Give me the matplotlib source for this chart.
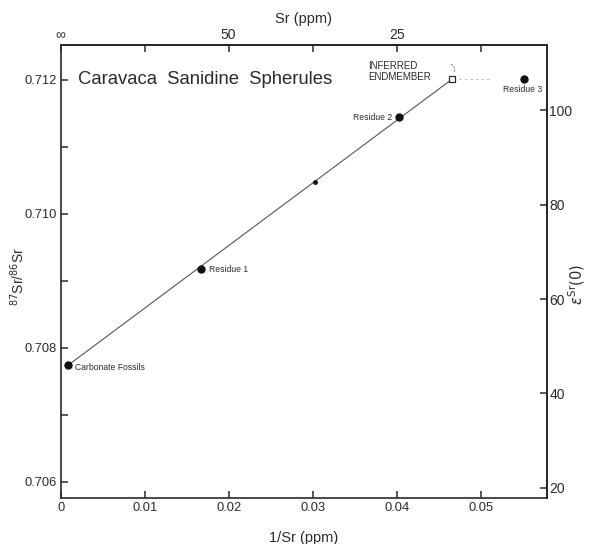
import matplotlib
matplotlib.use("Agg")
import matplotlib.pyplot as plt

# 1/Sr (ppm^-1) and 87Sr/86Sr for the measured fractions
sample_names = ["Carbonate Fossils", "Residue 1", "", "Residue 2", "Residue 3"]
inv_sr = [0.0009, 0.0167, 0.0303, 0.0403, 0.0552]
sr_ratio = [0.70774, 0.70917, 0.71048, 0.71144, 0.71201]

# inferred sanidine endmember (open square)
endmember_inv_sr = 0.0466
endmember_ratio = 0.71201

# axis ticks
x_ticks = [0.0, 0.01, 0.02, 0.03, 0.04, 0.05]
x_tick_labels = ["0", "0.01", "0.02", "0.03", "0.04", "0.05"]
top_ticks = [0.0, 0.01, 0.02, 0.03, 0.04, 0.05]
top_tick_labels = ["\u221e", "", "50", "", "25", ""]
y_ticks = [0.706, 0.707, 0.708, 0.709, 0.710, 0.711, 0.712]
y_tick_labels = ["0.706", "", "0.708", "", "0.710", "", "0.712"]
eps_ticks = [20, 40, 60, 80, 100]

UR_REF = 0.7045  # bulk-earth reference for epsilon Sr

plt.rcParams["font.family"] = ["Liberation Sans", "DejaVu Sans"]
ink = "#2a2a2a"

fig = plt.figure(figsize=(5.92, 5.44), dpi=100)
ax = fig.add_axes([0.1025, 0.0851, 0.821, 0.8322])

ax.set_xlim(0.0, 0.05786)
ax.set_ylim(0.70576, 0.71252)

# mixing line from carbonate end to inferred endmember
ax.plot([inv_sr[0], endmember_inv_sr], [sr_ratio[0], endmember_ratio],
        color="#555555", lw=0.8, zorder=2)
# faint dotted extension toward Residue 3
ax.plot([endmember_inv_sr + 0.0008, inv_sr[4] - 0.0038],
        [endmember_ratio, endmember_ratio],
        color="#bbbbbb", lw=0.8, ls=(0, (2, 3)), zorder=1)

# measured points
for i, (x, y) in enumerate(zip(inv_sr, sr_ratio)):
    ms = 2.5 if sample_names[i] == "" else 5
    ax.plot(x, y, "o", color="#111111", ms=ms, zorder=3)

ax.plot(endmember_inv_sr, endmember_ratio, "s", mfc="white", mec=ink,
        ms=5, mew=0.9, zorder=4)

lab_kw = dict(fontsize=6.2, color=ink)
ax.text(inv_sr[0] + 0.0008, sr_ratio[0] - 0.00003, sample_names[0],
        ha="left", va="center", **lab_kw)
ax.text(inv_sr[1] + 0.0009, sr_ratio[1], sample_names[1],
        ha="left", va="center", **lab_kw)
ax.text(inv_sr[3] - 0.0008, sr_ratio[3], sample_names[3],
        ha="right", va="center", **lab_kw)
ax.text(inv_sr[4] - 0.0002, sr_ratio[4] - 0.00016, sample_names[4],
        ha="center", va="center", **lab_kw)

ax.text(0.0366, 0.71213, "INFERRED\nENDMEMBER", fontsize=7, color=ink,
        ha="left", va="center", linespacing=1.1)
ax.annotate("", xy=(endmember_inv_sr + 0.0001, endmember_ratio + 0.00006),
            xytext=(endmember_inv_sr - 0.0004, endmember_ratio + 0.00024),
            arrowprops=dict(arrowstyle="-", color="#888888", lw=0.7,
                            ls=(0, (2, 1.5)),
                            connectionstyle="arc3,rad=-0.6"))

ax.text(0.0021, 0.71201, "Caravaca  Sanidine  Spherules", fontsize=13.3,
        color=ink, ha="left", va="center")

# bottom / left axes
ax.set_xticks(x_ticks)
ax.set_xticklabels(x_tick_labels)
ax.set_yticks(y_ticks)
ax.set_yticklabels(y_tick_labels)
ax.tick_params(direction="in", length=5, width=1.1, colors=ink,
               labelsize=9.3, pad=3)
ax.set_xlabel("1/Sr (ppm)", fontsize=10.5, color=ink, labelpad=12)
ax.set_ylabel(r"$^{87}$Sr/$^{86}$Sr", fontsize=10, color=ink)
ax.yaxis.set_label_coords(-0.069, 0.49)
for s in ax.spines.values():
    s.set_linewidth(1.2)
    s.set_color(ink)

# top axis: Sr concentration
top = ax.secondary_xaxis("top")
top.set_xticks(top_ticks)
top.set_xticklabels(top_tick_labels)
top.tick_params(direction="in", length=5, width=1.1, colors=ink,
                labelsize=10, pad=2)
top.set_xlabel("Sr (ppm)", fontsize=10.5, color=ink, labelpad=4)
top.spines["top"].set_linewidth(1.2)

# right axis: epsilon Sr(0)
right = ax.secondary_yaxis(
    "right",
    functions=(lambda r: (r / UR_REF - 1.0) * 1e4,
               lambda e: (e / 1e4 + 1.0) * UR_REF))
right.set_yticks(eps_ticks)
right.tick_params(direction="in", length=5, width=1.1, colors=ink,
                  labelsize=10, pad=2)
right.spines["right"].set_linewidth(1.2)
fig.text(0.974, 0.478, r"$\epsilon^{\rm Sr}(0)$", fontsize=10.5, color=ink,
         rotation=90, ha="center", va="center")

fig.savefig("out.png", dpi=100, facecolor="white")
